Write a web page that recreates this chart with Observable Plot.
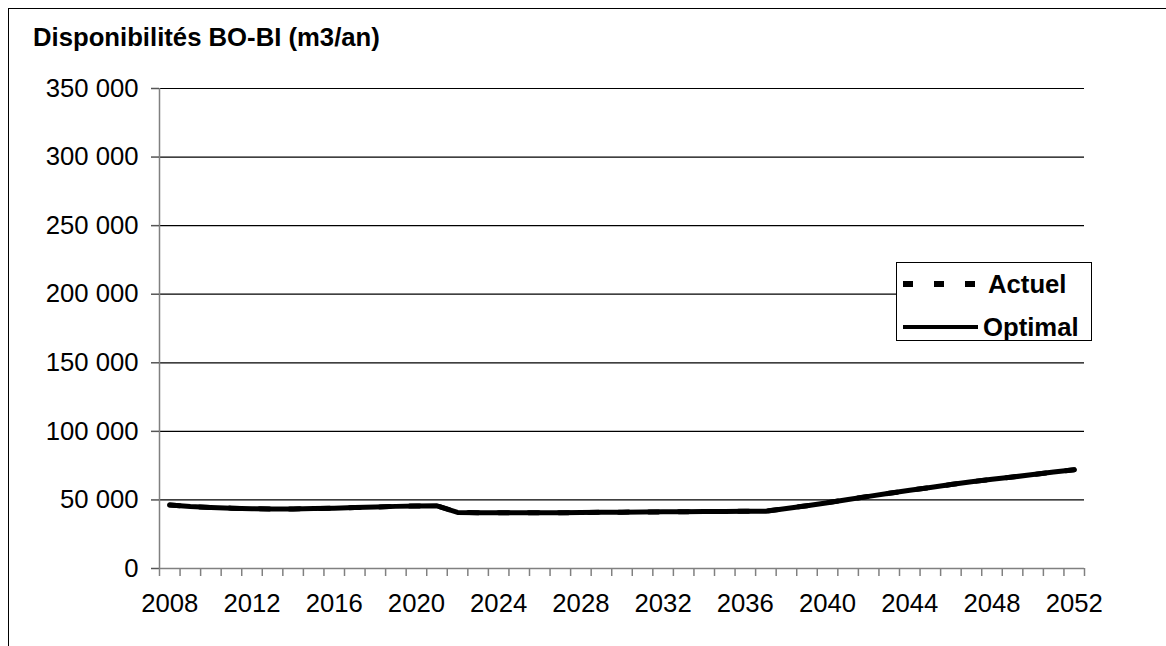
<!DOCTYPE html>
<html>
<head>
<meta charset="utf-8">
<script src="https://cdn.jsdelivr.net/npm/d3@7"></script>
<script src="https://cdn.jsdelivr.net/npm/@observablehq/plot@0.6"></script>
<style>
  html, body { margin: 0; padding: 0; background: #fff; }
  body { width: 1166px; height: 646px; position: relative; overflow: hidden; font-family: "Liberation Sans", Arial, sans-serif; }
  #frame { position: absolute; left: 8px; top: 8px; width: 1170px; height: 660px; border-top: 1.5px solid #000; border-left: 1.5px solid #000; box-sizing: border-box; }
  #title { position: absolute; left: 33px; top: 22px; font-size: 25.7px; line-height: 30px; font-weight: bold; color: #000; white-space: nowrap; }
  #chart { position: absolute; left: 0; top: 0; }
  #legend { position: absolute; left: 896px; top: 262px; width: 196px; height: 79px; box-sizing: border-box; border: 1px solid #000; background: #fff; }
  .row { position: absolute; display: flex; align-items: center; font-size: 25.7px; line-height: 30px; font-weight: bold; white-space: nowrap; }
  .row svg { display: block; }
</style>
</head>
<body>
<div id="frame"></div>
<div id="chart"></div>
<div id="title">Disponibilités BO-BI (m3/an)</div>
<div id="legend"></div>
<script>
const years = d3.range(2008, 2053);
const actuel = [46300,45200,44500,44000,43600,43400,43400,43700,44000,44400,44800,45300,45600,45700,
  40900,40700,40600,40600,40600,40700,40800,41000,41100,41200,41300,41400,41500,41600,41700,41800,
  43800,45800,48000,50300,52600,54800,57000,59100,61200,63300,65000,66700,68500,70300,72000];
const optimal = actuel.slice();
const yTicks = [0,50000,100000,150000,200000,250000,300000,350000];
const xLabels = d3.range(2008, 2053, 4);
const seriesNames = ["Actuel", "Optimal"];

const rowsA = years.map((y, i) => ({year: y, value: actuel[i]}));
const rowsO = years.map((y, i) => ({year: y, value: optimal[i]}));
const boundaries = d3.range(2007.5, 2053, 1);
const fmt = v => d3.format(",")(v).replace(/,/g, " ");

const chart = Plot.plot({
  width: 1166,
  height: 646,
  marginLeft: 159,
  marginRight: 82,
  marginTop: 88,
  marginBottom: 78,
  style: {fontFamily: "'Liberation Sans', Arial, sans-serif", fontSize: "25.7px", color: "#000", background: "transparent"},
  x: {domain: [2007.5, 2052.5], axis: null},
  y: {domain: [0, 350000], axis: null},
  marks: [
    Plot.ruleY(yTicks.filter(d => d > 0), {x1: 2007.5, x2: 2052.5, stroke: "#000", strokeWidth: 1.2}),
    Plot.ruleY([0], {x1: 2007.5, x2: 2052.5, stroke: "#808080", strokeWidth: 1.5}),
    Plot.ruleX([2007.5], {y1: 0, y2: 350000, stroke: "#808080", strokeWidth: 1.5}),
    Plot.axisY({ticks: yTicks, tickSize: 8, tickPadding: 13, tickFormat: fmt, stroke: "#555", strokeWidth: 1.5, strokeOpacity: 1, label: null, fontSize: 25.7}),
    Plot.axisX({ticks: boundaries, tickSize: 8, tickFormat: () => "", stroke: "#808080", strokeWidth: 1.5, strokeOpacity: 1, label: null}),
    Plot.axisX({ticks: xLabels, tickSize: 0, tickPadding: 25, tickFormat: d => String(d), label: null, fontSize: 25.7}),
    Plot.line(rowsO, {x: "year", y: "value", stroke: "#000", strokeWidth: 5, strokeLinejoin: "round", strokeLinecap: "round"}),
    Plot.line(rowsA, {x: "year", y: "value", stroke: "#000", strokeWidth: 5, strokeDasharray: "10,20"})
  ]
});
document.getElementById("chart").appendChild(chart);

const legend = document.getElementById("legend");
const samples = [
  '<svg width="82" height="10"><line x1="6" y1="5" x2="78" y2="5" stroke="#000" stroke-width="6" stroke-dasharray="10,21"/></svg>',
  '<svg width="81" height="10"><line x1="6" y1="5" x2="81" y2="5" stroke="#000" stroke-width="4"/></svg>'
];
const rowTops = [6, 49];
seriesNames.forEach((name, i) => {
  const row = document.createElement("div");
  row.className = "row";
  row.style.top = rowTops[i] + "px";
  row.style.left = "0px";
  row.innerHTML = samples[i] + "<span style='margin-left:" + (i === 0 ? 9 : 5) + "px'>" + name + "</span>";
  legend.appendChild(row);
});
</script>
</body>
</html>
